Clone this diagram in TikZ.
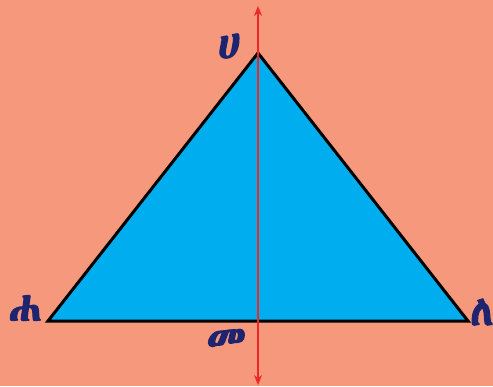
\documentclass[tikz,border=0pt]{standalone}
\usepackage{fontspec}
\IfFontExistsTF{Abyssinica SIL}{\newfontfamily\ethfont{Abyssinica SIL}[FakeBold=2.5]}{\IfFontExistsTF{FreeSerif}{\newfontfamily\ethfont{FreeSerif}[FakeBold=2.5]}{\newfontfamily\ethfont{DejaVu Sans}}}
\usetikzlibrary{arrows.meta}
\definecolor{bg}{RGB}{245,152,124}
\definecolor{tri}{RGB}{0,174,239}
\definecolor{lbl}{RGB}{30,36,110}
\definecolor{axis}{RGB}{236,40,40}
\begin{document}
\begin{tikzpicture}[x=1pt,y=-1pt,
  lab/.style={text=lbl,font=\ethfont\bfseries\fontsize{42}{42}\selectfont,inner sep=0pt}]
\fill[bg] (0,0) rectangle (493,386);
\useasboundingbox (0,0) rectangle (493,386);
\coordinate (A) at (258,53);
\coordinate (B) at (48,321);
\coordinate (C) at (468,321);
\filldraw[fill=tri,draw=black,line width=3pt,line join=miter] (A) -- (B) -- (C) -- cycle;
\coordinate (top) at (258,6);
\coordinate (bot) at (258,385);
\draw[axis,line width=2.7pt,{Stealth[length=10pt,width=8pt]}-{Stealth[length=10pt,width=8pt]}] (bot) -- (top);
\node[lab] (ha) at (229,46) {ሀ};
\node[lab] (hha) at (25,308) {ሐ};
\node[lab] (le) at (482,312) {ለ};
\node[lab] (me) at (226,341) {መ};
\end{tikzpicture}
\end{document}
